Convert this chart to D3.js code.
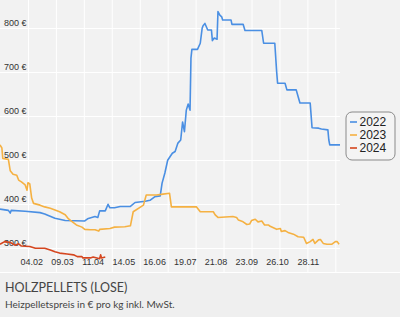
<!DOCTYPE html>
<html>
<head>
<meta charset="utf-8">
<script src="https://cdn.jsdelivr.net/npm/d3@7"></script>
<style>
  body { margin: 0; background: #fff; }
  #viz { width: 400px; height: 333px; }
</style>
</head>
<body>
<div id="viz"></div>
<script>
// day of year (1..366) and price in euro per tonne
var days2022 = [1, 10, 12, 13, 28, 44, 49, 60, 71, 92, 95, 103, 106, 108, 114, 117, 119, 124, 130, 141, 146, 157, 162, 167, 173, 175, 178, 181, 186, 189, 192, 195, 197, 199, 201, 203, 205, 206, 207, 213, 216, 218, 219, 221, 224, 228, 229, 231, 234, 235, 237, 239, 240, 249, 250, 262, 264, 282, 284, 296, 298, 299, 307, 309, 319, 321, 323, 334, 336, 343, 346, 353, 354, 355, 366];
var prices2022 = [389, 386, 380, 386, 384, 381, 378, 368, 363, 362, 367, 372, 370, 385, 385, 400, 392, 392, 395, 395, 404, 407, 409, 417, 419, 448, 471, 500, 516, 520, 539, 546, 587, 565, 614, 628, 614, 732, 752, 752, 766, 800, 806, 811, 796, 796, 772, 778, 775, 838, 830, 826, 819, 819, 809, 809, 795, 795, 766, 766, 701, 675, 675, 660, 660, 645, 630, 630, 574, 573, 571, 569, 546, 535, 535];

var days2023 = [1, 3, 4, 10, 12, 15, 19, 21, 24, 28, 30, 31, 33, 35, 37, 44, 49, 55, 60, 65, 71, 74, 78, 83, 89, 92, 98, 103, 107, 108, 119, 124, 135, 141, 144, 155, 158, 169, 176, 183, 185, 212, 216, 230, 232, 235, 251, 255, 257, 262, 266, 269, 271, 275, 278, 282, 285, 289, 291, 298, 302, 303, 307, 311, 316, 321, 327, 330, 334, 337, 339, 343, 345, 348, 352, 357, 361, 363, 365];
var prices2023 = [535, 528, 504, 502, 476, 468, 466, 455, 451, 444, 432, 449, 446, 414, 402, 398, 394, 391, 387, 383, 376, 368, 361, 353, 348, 343, 342, 342, 339, 343, 345, 348, 349, 351, 383, 398, 421, 421, 423, 425, 394, 394, 383, 383, 376, 370, 372, 370, 364, 360, 354, 355, 363, 366, 360, 362, 353, 353, 350, 343, 345, 338, 340, 335, 332, 326, 325, 311, 315, 320, 311, 319, 320, 311, 309, 309, 315, 315, 309];

var days2024 = [1, 6, 12, 17, 21, 24, 33, 39, 49, 55, 60, 65, 73, 80, 84, 89, 90, 98, 101, 105, 108, 109, 110, 114];
var prices2024 = [309, 315, 313, 307, 310, 305, 304, 300, 300, 296, 292, 289, 287, 285, 281, 281, 278, 278, 280, 278, 276, 285, 278, 280];

var years = ["2022", "2023", "2024"];
var colors = ["#4a8fe3", "#f5b142", "#d5461f"];

var tickDays = [35, 68, 101, 134, 167, 200, 233, 266, 299, 332];
var tickLabels = ["04.02", "09.03", "11.04", "14.05", "16.06", "19.07", "21.08", "23.09", "26.10", "28.11"];
var gridDays = [31, 61, 91, 121, 151, 181, 211, 241, 271, 301, 331, 361];
var priceTicks = [300, 400, 500, 600, 700, 800];

var W = 400, H = 333, plotH = 272, plotW = 340;

var svg = d3.select("#viz").append("svg")
    .attr("width", W)
    .attr("height", H)
    .style("display", "block");

// backgrounds
svg.append("rect").attr("width", W).attr("height", plotH).attr("fill", "#f2f2f2");
svg.append("rect").attr("y", plotH + 1).attr("width", W).attr("height", 44).attr("fill", "#efefef");

var x = d3.scaleLinear().domain([1, 366]).range([0, plotW]);
var y = d3.scaleLinear().domain([246, 864.3]).range([plotH, 0]);

// grid
svg.append("g").selectAll("line").data(gridDays).join("line")
    .attr("x1", d => x(d) + 0.5).attr("x2", d => x(d) + 0.5)
    .attr("y1", 0).attr("y2", plotH)
    .attr("stroke", "#fff").attr("stroke-width", 1);

svg.append("g").selectAll("line").data(priceTicks).join("line")
    .attr("x1", 0).attr("x2", plotW)
    .attr("y1", d => Math.round(y(d)) + 0.5).attr("y2", d => Math.round(y(d)) + 0.5)
    .attr("stroke", "#fff").attr("stroke-width", 1.2);

// y labels
svg.append("g").selectAll("text").data(priceTicks).join("text")
    .attr("x", 4)
    .attr("y", d => y(d) - 2)
    .attr("font-family", "Liberation Sans, Arial, sans-serif")
    .attr("font-size", 9)
    .attr("fill", "#333")
    .text(d => d + " €");

// x labels
svg.append("g").selectAll("text").data(tickDays).join("text")
    .attr("x", d => x(d))
    .attr("y", 265)
    .attr("text-anchor", "middle")
    .attr("font-family", "Liberation Sans, Arial, sans-serif")
    .attr("font-size", 9)
    .attr("fill", "#333")
    .text((d, i) => tickLabels[i]);

// lines
var series = [
  {days: days2022, prices: prices2022},
  {days: days2023, prices: prices2023},
  {days: days2024, prices: prices2024}
];

var line = d3.line()
    .x(d => x(d[0]))
    .y(d => y(d[1]));

series.forEach(function(s, i) {
  var pts = s.days.map((d, j) => [d, s.prices[j]]);
  svg.append("path")
      .datum(pts)
      .attr("fill", "none")
      .attr("stroke", colors[i])
      .attr("stroke-width", 1.6)
      .attr("stroke-linejoin", "round")
      .attr("d", line);
});

// legend
var lg = svg.append("g").attr("transform", "translate(346,112)");
lg.append("rect")
    .attr("width", 49).attr("height", 48).attr("rx", 6)
    .attr("fill", "#f4f4f4").attr("stroke", "#8a8a8a").attr("stroke-width", 1);
years.forEach(function(yr, i) {
  var cy = 10 + i * 13;
  lg.append("line")
      .attr("x1", 4).attr("x2", 11)
      .attr("y1", cy).attr("y2", cy)
      .attr("stroke", colors[i]).attr("stroke-width", 1.6);
  lg.append("text")
      .attr("x", 13.5).attr("y", cy + 4.3)
      .attr("font-family", "Liberation Sans, Arial, sans-serif")
      .attr("font-size", 12)
      .attr("fill", "#222")
      .text(yr);
});

// footer
svg.append("text")
    .attr("x", 5).attr("y", 292)
    .attr("font-family", "Lato, sans-serif")
    .attr("font-size", 12.5)
    .attr("fill", "#444")
    .text("HOLZPELLETS (LOSE)");
svg.append("text")
    .attr("x", 5).attr("y", 307.5)
    .attr("font-family", "Lato, sans-serif")
    .attr("font-size", 10)
    .attr("fill", "#444")
    .text("Heizpelletspreis in € pro kg inkl. MwSt.");
</script>
</body>
</html>
